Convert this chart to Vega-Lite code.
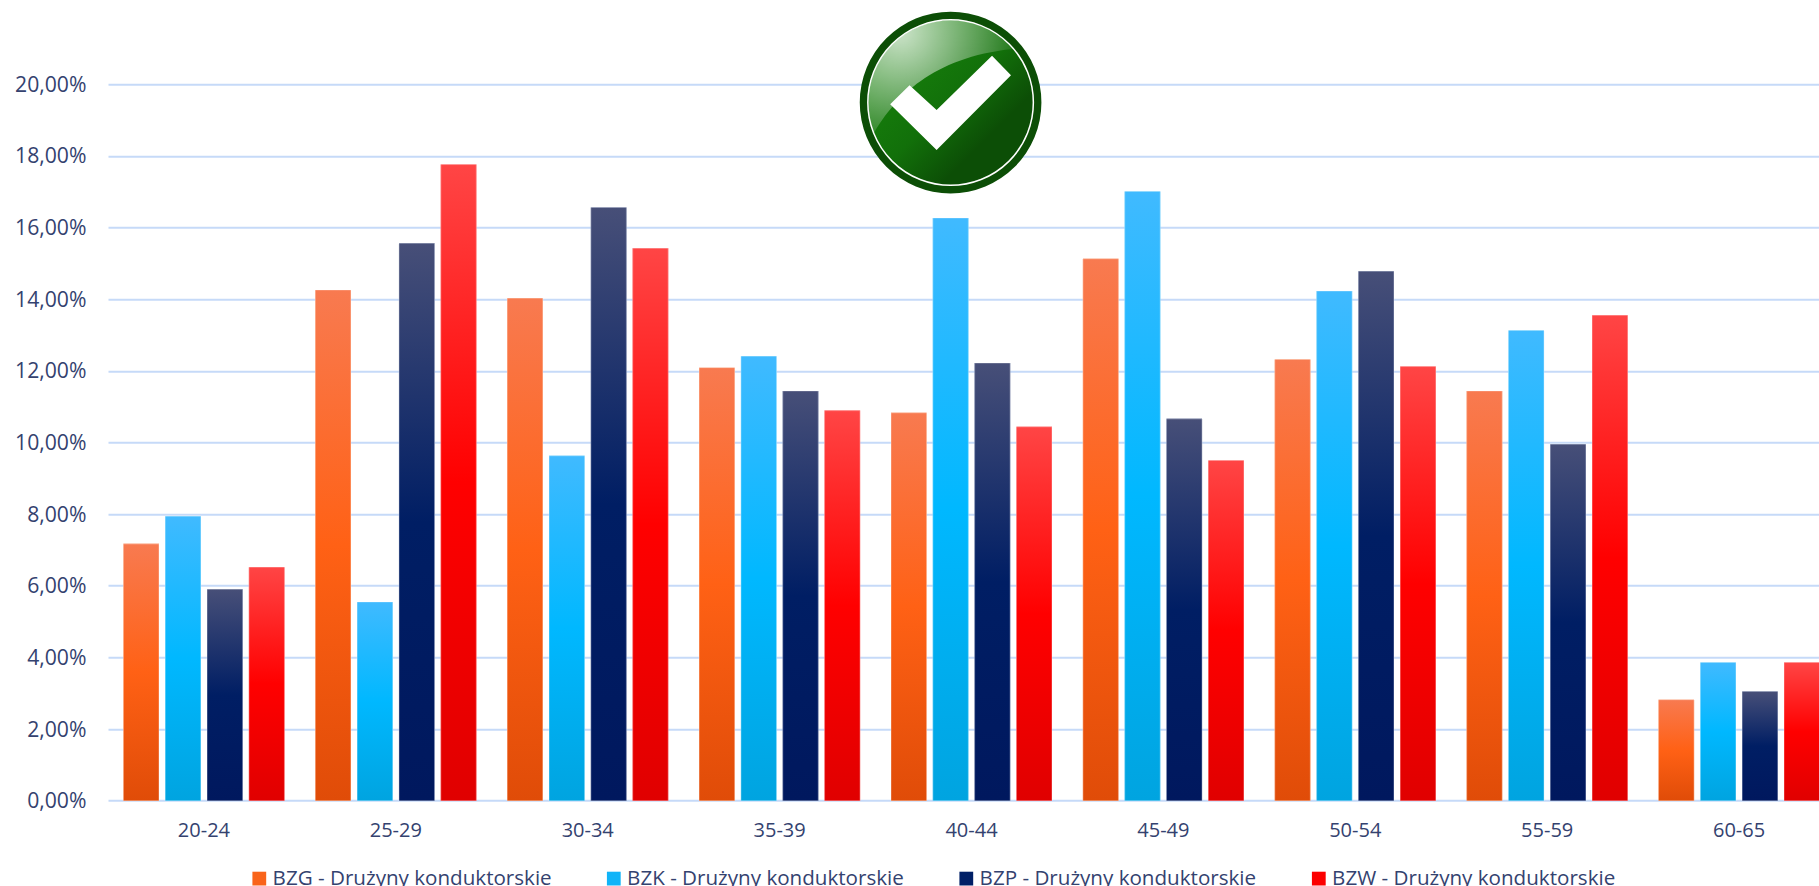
{
  "$schema": "https://vega.github.io/schema/vega-lite/v6.json",
  "width": 1711,
  "height": 716.4,
  "autosize": {"type": "none"},
  "padding": {"left": 108, "top": 84.3, "right": 0, "bottom": 85.3},
  "background": "white",
  "config": {"view": {"stroke": null}},
  "datasets": {
    "shares": [
      {"age": "20-24", "series": "BZG - Drużyny konduktorskie", "pct": 7.17},
      {"age": "20-24", "series": "BZK - Drużyny konduktorskie", "pct": 7.94},
      {"age": "20-24", "series": "BZP - Drużyny konduktorskie", "pct": 5.9},
      {"age": "20-24", "series": "BZW - Drużyny konduktorskie", "pct": 6.52},
      {"age": "25-29", "series": "BZG - Drużyny konduktorskie", "pct": 14.26},
      {"age": "25-29", "series": "BZK - Drużyny konduktorskie", "pct": 5.55},
      {"age": "25-29", "series": "BZP - Drużyny konduktorskie", "pct": 15.56},
      {"age": "25-29", "series": "BZW - Drużyny konduktorskie", "pct": 17.76},
      {"age": "30-34", "series": "BZG - Drużyny konduktorskie", "pct": 14.03},
      {"age": "30-34", "series": "BZK - Drużyny konduktorskie", "pct": 9.63},
      {"age": "30-34", "series": "BZP - Drużyny konduktorskie", "pct": 16.56},
      {"age": "30-34", "series": "BZW - Drużyny konduktorskie", "pct": 15.42},
      {"age": "35-39", "series": "BZG - Drużyny konduktorskie", "pct": 12.09},
      {"age": "35-39", "series": "BZK - Drużyny konduktorskie", "pct": 12.41},
      {"age": "35-39", "series": "BZP - Drużyny konduktorskie", "pct": 11.44},
      {"age": "35-39", "series": "BZW - Drużyny konduktorskie", "pct": 10.89},
      {"age": "40-44", "series": "BZG - Drużyny konduktorskie", "pct": 10.83},
      {"age": "40-44", "series": "BZK - Drużyny konduktorskie", "pct": 16.27},
      {"age": "40-44", "series": "BZP - Drużyny konduktorskie", "pct": 12.22},
      {"age": "40-44", "series": "BZW - Drużyny konduktorskie", "pct": 10.44},
      {"age": "45-49", "series": "BZG - Drużyny konduktorskie", "pct": 15.13},
      {"age": "45-49", "series": "BZK - Drużyny konduktorskie", "pct": 17.01},
      {"age": "45-49", "series": "BZP - Drużyny konduktorskie", "pct": 10.66},
      {"age": "45-49", "series": "BZW - Drużyny konduktorskie", "pct": 9.5},
      {"age": "50-54", "series": "BZG - Drużyny konduktorskie", "pct": 12.32},
      {"age": "50-54", "series": "BZK - Drużyny konduktorskie", "pct": 14.23},
      {"age": "50-54", "series": "BZP - Drużyny konduktorskie", "pct": 14.78},
      {"age": "50-54", "series": "BZW - Drużyny konduktorskie", "pct": 12.12},
      {"age": "55-59", "series": "BZG - Drużyny konduktorskie", "pct": 11.44},
      {"age": "55-59", "series": "BZK - Drużyny konduktorskie", "pct": 13.13},
      {"age": "55-59", "series": "BZP - Drużyny konduktorskie", "pct": 9.95},
      {"age": "55-59", "series": "BZW - Drużyny konduktorskie", "pct": 13.55},
      {"age": "60-65", "series": "BZG - Drużyny konduktorskie", "pct": 2.82},
      {"age": "60-65", "series": "BZK - Drużyny konduktorskie", "pct": 3.86},
      {"age": "60-65", "series": "BZP - Drużyny konduktorskie", "pct": 3.05},
      {"age": "60-65", "series": "BZW - Drużyny konduktorskie", "pct": 3.86}
    ],
    "badge": [
      {"age": "40-44", "series": "BZK - Drużyny konduktorskie", "pct": 19.49}
    ]
  },
  "encoding": {
    "x": {
      "field": "age",
      "type": "nominal",
      "sort": null,
      "title": null,
      "scale": {"range": [0, 1727], "paddingInner": 0.161, "paddingOuter": 0.0805},
      "axis": {
        "domain": false,
        "ticks": false,
        "grid": false,
        "labelAngle": 0,
        "labelPadding": 20,
        "labelFont": "Open Sans",
        "labelFontSize": 20,
        "labelColor": "#34426f"
      }
    },
    "xOffset": {
      "field": "series",
      "type": "nominal",
      "scale": {
        "domain": [
          "BZG - Drużyny konduktorskie",
          "BZK - Drużyny konduktorskie",
          "BZP - Drużyny konduktorskie",
          "BZW - Drużyny konduktorskie"
        ],
        "paddingInner": 0.15,
        "paddingOuter": 0
      }
    },
    "y": {
      "field": "pct",
      "type": "quantitative",
      "title": null,
      "scale": {"domain": [0, 20], "nice": false},
      "axis": {
        "values": [0, 2, 4, 6, 8, 10, 12, 14, 16, 18, 20],
        "labelExpr": "replace(format(datum.value, '.2f'), '.', ',') + '%'",
        "domain": false,
        "ticks": false,
        "grid": true,
        "gridColor": "#c6daf8",
        "gridWidth": 2,
        "labelPadding": 22,
        "labelOffset": 1,
        "labelFont": "Open Sans",
        "labelFontSize": 21.2,
        "labelColor": "#34426f"
      }
    }
  },
  "layer": [
    {
      "data": {"name": "shares"},
      "mark": {"type": "bar"},
      "encoding": {
        "color": {
          "field": "series",
          "type": "nominal",
          "title": null,
          "scale": {
            "domain": [
              "BZG - Drużyny konduktorskie",
              "BZK - Drużyny konduktorskie",
              "BZP - Drużyny konduktorskie",
              "BZW - Drużyny konduktorskie"
            ],
            "range": ["#f9641a", "#10b4f8", "#001f66", "#fc0000"]
          },
          "legend": {
            "orient": "none",
            "legendX": 141,
            "legendY": 784,
            "direction": "horizontal",
            "columns": 4,
            "gridAlign": "none",
            "columnPadding": 51.5,
            "symbolType": "square",
            "symbolSize": 190,
            "symbolStrokeWidth": 0,
            "labelOffset": 3,
            "labelFont": "Open Sans",
            "labelFontSize": 20.6,
            "labelColor": "#34426f",
            "labelLimit": 400
          }
        }
      }
    },
    {
      "data": {"name": "shares"},
      "transform": [{"filter": {"field": "series", "equal": "BZG - Drużyny konduktorskie"}}],
      "mark": {
        "type": "bar",
        "stroke": "#ffffff",
        "strokeOpacity": 0.35,
        "strokeWidth": 1,
        "fill": {
          "gradient": "linear",
          "x1": 0,
          "y1": 0,
          "x2": 0,
          "y2": 1,
          "stops": [
            {"offset": 0, "color": "#f87a50"},
            {"offset": 0.5, "color": "#ff6115"},
            {"offset": 1, "color": "#e04c08"}
          ]
        }
      }
    },
    {
      "data": {"name": "shares"},
      "transform": [{"filter": {"field": "series", "equal": "BZK - Drużyny konduktorskie"}}],
      "mark": {
        "type": "bar",
        "stroke": "#ffffff",
        "strokeOpacity": 0.35,
        "strokeWidth": 1,
        "fill": {
          "gradient": "linear",
          "x1": 0,
          "y1": 0,
          "x2": 0,
          "y2": 1,
          "stops": [
            {"offset": 0, "color": "#40baff"},
            {"offset": 0.5, "color": "#00b8ff"},
            {"offset": 1, "color": "#00a4e0"}
          ]
        }
      }
    },
    {
      "data": {"name": "shares"},
      "transform": [{"filter": {"field": "series", "equal": "BZP - Drużyny konduktorskie"}}],
      "mark": {
        "type": "bar",
        "stroke": "#ffffff",
        "strokeOpacity": 0.35,
        "strokeWidth": 1,
        "fill": {
          "gradient": "linear",
          "x1": 0,
          "y1": 0,
          "x2": 0,
          "y2": 1,
          "stops": [
            {"offset": 0, "color": "#474f78"},
            {"offset": 0.5, "color": "#001e64"},
            {"offset": 1, "color": "#00185e"}
          ]
        }
      }
    },
    {
      "data": {"name": "shares"},
      "transform": [{"filter": {"field": "series", "equal": "BZW - Drużyny konduktorskie"}}],
      "mark": {
        "type": "bar",
        "stroke": "#ffffff",
        "strokeOpacity": 0.35,
        "strokeWidth": 1,
        "fill": {
          "gradient": "linear",
          "x1": 0,
          "y1": 0,
          "x2": 0,
          "y2": 1,
          "stops": [
            {"offset": 0, "color": "#ff4545"},
            {"offset": 0.5, "color": "#ff0000"},
            {"offset": 1, "color": "#e00000"}
          ]
        }
      }
    },
    {
      "data": {"name": "badge"},
      "mark": {"type": "point", "shape": "circle", "filled": true, "size": 33000, "fill": "#0c4e06", "opacity": 1}
    },
    {
      "data": {"name": "badge"},
      "mark": {
        "type": "point",
        "shape": "circle",
        "filled": true,
        "size": 27400,
        "opacity": 1,
        "stroke": "#ffffff",
        "strokeWidth": 1.5,
        "fill": {
          "gradient": "linear",
          "x1": 0.2,
          "y1": 0.2,
          "x2": 0.85,
          "y2": 0.85,
          "stops": [
            {"offset": 0, "color": "#17800c"},
            {"offset": 0.45, "color": "#12700a"},
            {"offset": 0.8, "color": "#0c4e06"},
            {"offset": 1, "color": "#0c4e06"}
          ]
        }
      }
    },
    {
      "data": {"name": "badge"},
      "mark": {
        "type": "point",
        "filled": true,
        "size": 33000,
        "opacity": 1,
        "fill": "#ffffff",
        "shape": "M -0.665 0.018 L -0.452 -0.191 L -0.154 0.081 L 0.456 -0.515 L 0.665 -0.301 L -0.154 0.522 Z"
      }
    },
    {
      "data": {"name": "badge"},
      "mark": {
        "type": "point",
        "filled": true,
        "size": 33000,
        "opacity": 1,
        "fill": {
          "gradient": "radial",
          "x1": 0.22,
          "y1": 0.19,
          "r1": 0,
          "x2": 0.22,
          "y2": 0.19,
          "r2": 0.82,
          "stops": [
            {"offset": 0, "color": "rgba(255,255,255,0.78)"},
            {"offset": 1, "color": "rgba(255,255,255,0.06)"}
          ]
        },
        "shape": "M -0.84 0.33 C -0.62 -0.05 -0.2 -0.5 0.68 -0.59 A 0.9 0.9 0 0 0 -0.84 0.33 Z"
      }
    }
  ]
}
